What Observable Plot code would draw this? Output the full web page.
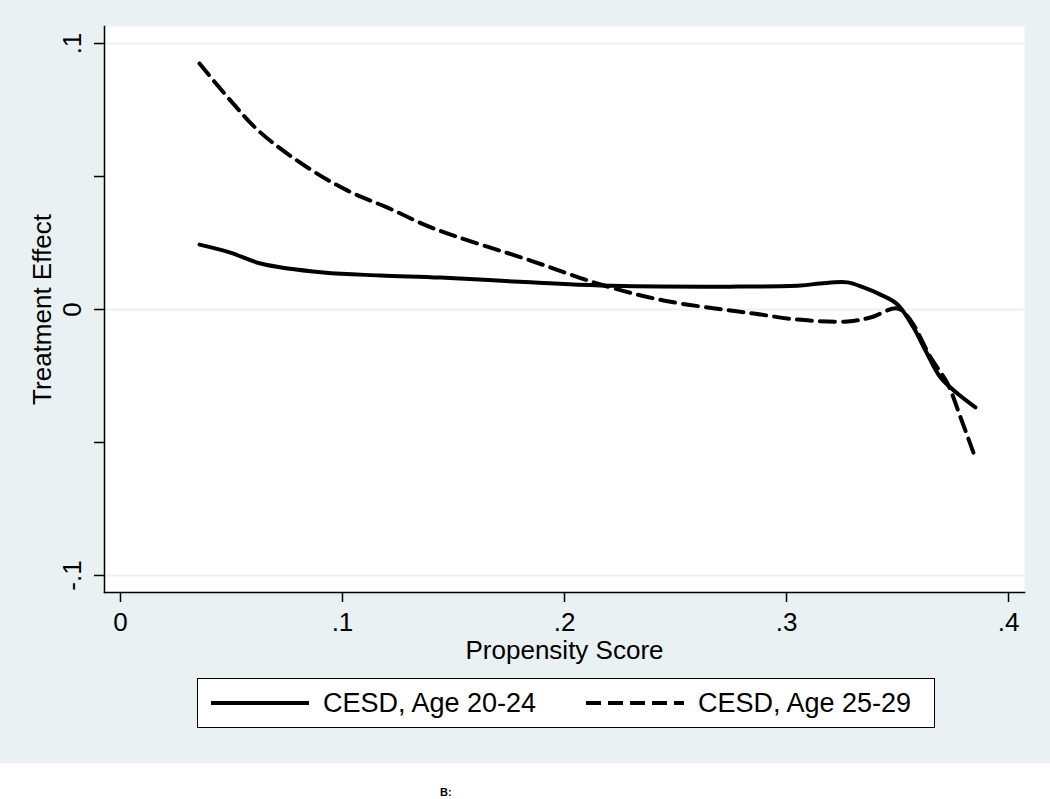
<!DOCTYPE html>
<html>
<head>
<meta charset="utf-8">
<script src="https://cdn.jsdelivr.net/npm/d3@7"></script>
<script src="https://cdn.jsdelivr.net/npm/@observablehq/plot@0.6"></script>
<style>
  body { margin: 0; background: #ffffff; font-family: "Liberation Sans", Arial, Helvetica, sans-serif; }
  #panel { position: relative; width: 1050px; height: 763px; background: #e9f1f3; overflow: hidden; }
  #chart { position: absolute; left: 0; top: 0; }
  #legend { position: absolute; left: 197px; top: 678px; width: 736px; height: 48px; border: 1.5px solid #000; background: #fff; }
  .lg-item { position: absolute; top: 0; height: 48px; display: flex; align-items: center; font-size: 27px; color: #000; white-space: nowrap; }
  .lg-item svg { margin-right: 14px; }
  #foot { position: absolute; left: 440px; top: 787px; font-size: 11px; font-weight: bold; line-height: 11px; }
</style>
</head>
<body>
<div id="panel">
  <div id="chart"></div>
  <div id="legend"></div>
</div>
<div id="foot">B:</div>
<script>
// ---- data ----
const seriesNames = ["CESD, Age 20-24", "CESD, Age 25-29"];

const solidX = [0.0356, 0.0495, 0.0631, 0.0914, 0.1171, 0.1441, 0.1847, 0.2162, 0.2748, 0.3063, 0.3153, 0.3275, 0.3347, 0.3423, 0.3500, 0.3572, 0.3626, 0.3694, 0.3770, 0.3851];
const solidY = [0.0244, 0.0214, 0.0173, 0.0139, 0.0128, 0.0120, 0.0102, 0.0090, 0.0086, 0.0090, 0.0098, 0.0102, 0.0083, 0.0056, 0.0019, -0.0068, -0.0154, -0.0256, -0.0316, -0.0368];

const dashedX = [0.0356, 0.0495, 0.0631, 0.0842, 0.1023, 0.1203, 0.1410, 0.1847, 0.2162, 0.2446, 0.2748, 0.2851, 0.3050, 0.3275, 0.3378, 0.3500, 0.3559, 0.3649, 0.3725, 0.3784, 0.3842];
const dashedY = [0.0925, 0.0786, 0.0665, 0.0534, 0.0447, 0.0383, 0.0305, 0.0184, 0.0094, 0.0034, -0.0004, -0.0015, -0.0038, -0.0045, -0.0030, 0.0004, -0.0041, -0.0180, -0.0278, -0.0406, -0.0538];

const xTickValues = [0, 0.1, 0.2, 0.3, 0.4];
const xTickLabels = ["0", ".1", ".2", ".3", ".4"];
const yTickValues = [-0.1, -0.05, 0, 0.05, 0.1];
const yTickLabels = ["-.1", "", "0", "", ".1"];
const yGrid = [-0.1, 0, 0.1];
const xDomain = [-0.0072, 0.4072];
const yDomain = [-0.1064, 0.1064];
const xTitle = "Propensity Score";
const yTitle = "Treatment Effect";

const solid = solidX.map((x, i) => ({x, y: solidY[i]}));
const dashed = dashedX.map((x, i) => ({x, y: dashedY[i]}));

const font = "'Liberation Sans', Arial, Helvetica, sans-serif";
const bg = "#e9f1f3";

const chart = Plot.plot({
  width: 1050,
  height: 670,
  marginTop: 26,
  marginBottom: 78,
  marginLeft: 104,
  marginRight: 26,
  style: { background: "transparent", fontFamily: font, color: "#000", overflow: "visible" },
  x: { domain: xDomain },
  y: { domain: yDomain },
  marks: [
    Plot.frame({ fill: "white", stroke: null }),
    Plot.ruleY(yGrid, { stroke: bg, strokeWidth: 2 }),
    Plot.frame({ anchor: "left", stroke: "#000", strokeWidth: 1.5 }),
    Plot.frame({ anchor: "bottom", stroke: "#000", strokeWidth: 1.5 }),
    Plot.axisY({
      ticks: yTickValues,
      tickFormat: d => yTickLabels[yTickValues.indexOf(d)],
      tickSize: 10,
      tickPadding: 22,
      tickRotate: -90,
      textAnchor: "middle",
      lineAnchor: "middle",
      fontSize: 26,
      strokeWidth: 1.5,
      label: null
    }),
    Plot.axisX({
      ticks: xTickValues,
      tickFormat: d => xTickLabels[xTickValues.indexOf(d)],
      tickSize: 10,
      tickPadding: 10,
      fontSize: 26,
      strokeWidth: 1.5,
      label: null
    }),
    Plot.text([yTitle], { frameAnchor: "left", dx: -62, rotate: -90, textAnchor: "middle", lineAnchor: "middle", fontSize: 26, fill: "#000" }),
    Plot.text([xTitle], { frameAnchor: "bottom", dy: 58, textAnchor: "middle", lineAnchor: "middle", fontSize: 26, fill: "#000" }),
    Plot.line(solid, { x: "x", y: "y", stroke: "#000", strokeWidth: 4, curve: "catmull-rom" }),
    Plot.line(dashed, { x: "x", y: "y", stroke: "#000", strokeWidth: 4, strokeDasharray: "15,8", curve: "catmull-rom" })
  ]
});
document.getElementById("chart").appendChild(chart);

// legend
const legend = document.getElementById("legend");
const items = [
  { name: seriesNames[0], dash: null, left: 13 },
  { name: seriesNames[1], dash: "15,7", left: 388 }
];
for (const it of items) {
  const div = document.createElement("div");
  div.className = "lg-item";
  div.style.left = it.left + "px";
  const svg = d3.create("svg").attr("width", 98).attr("height", 10);
  svg.append("line").attr("x1", 0).attr("x2", 98).attr("y1", 5).attr("y2", 5)
    .attr("stroke", "#000").attr("stroke-width", 4)
    .attr("stroke-dasharray", it.dash);
  div.appendChild(svg.node());
  const span = document.createElement("span");
  span.textContent = it.name;
  div.appendChild(span);
  legend.appendChild(div);
}
</script>
</body>
</html>
